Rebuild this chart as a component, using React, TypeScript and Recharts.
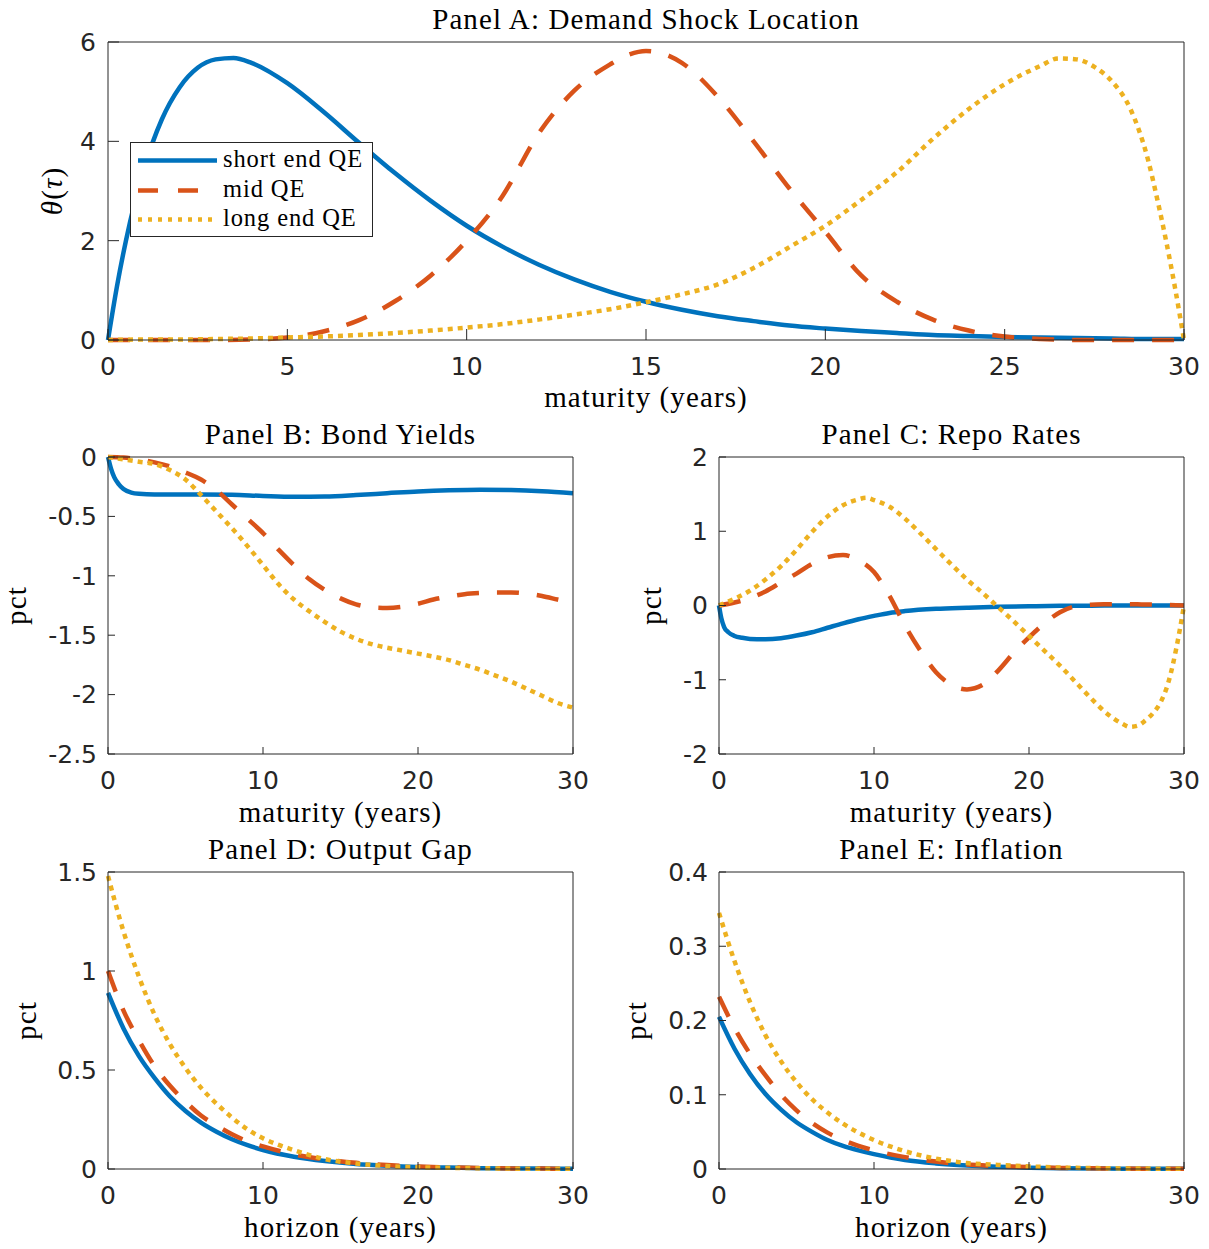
import React from 'react';
import { LineChart, Line, XAxis, YAxis, Legend } from 'recharts';

const BLUE = '#0072BD';
const ORANGE = '#D95319';
const YELLOW = '#EDB120';
const AX = '#262626';
const SERIF = '"Liberation Serif", "Times New Roman", serif';
const SANS = '"DejaVu Sans", sans-serif';

const seriesNames = ['short end QE', 'mid QE', 'long end QE'];

// ---------- Panel A: Demand Shock Location ----------
const xShortA = [0, 0.25, 0.5, 1, 1.5, 2, 2.5, 3, 3.5, 4, 5, 6, 7, 8, 9, 10, 11, 12, 13, 14, 15, 16, 17, 18, 19, 20, 21, 22, 23, 24, 25, 26, 27, 28, 29, 30];
const yShortA = [0, 1.08, 2.0, 3.44, 4.44, 5.09, 5.48, 5.65, 5.68, 5.58, 5.17, 4.6, 3.97, 3.36, 2.8, 2.3, 1.88, 1.52, 1.22, 0.97, 0.77, 0.61, 0.48, 0.38, 0.29, 0.23, 0.18, 0.14, 0.1, 0.08, 0.06, 0.05, 0.04, 0.03, 0.02, 0.02];
const xMidA = [0, 1, 2, 3, 4, 5, 6, 7, 8, 9, 10, 11, 12, 13, 14, 14.5, 15, 15.5, 16, 17, 18, 19, 20, 21, 22, 23, 24, 25, 26, 27, 28, 29, 30];
const yMidA = [0, 0, 0, 0, 0.01, 0.05, 0.17, 0.4, 0.78, 1.3, 2.0, 2.9, 4.15, 5.02, 5.55, 5.74, 5.82, 5.76, 5.58, 4.9, 4.0, 3.05, 2.18, 1.3, 0.77, 0.41, 0.19, 0.07, 0.02, 0, 0, 0, 0];
const xLongA = [0, 1, 2, 3, 4, 5, 6, 7, 8, 9, 10, 11, 12, 13, 14, 15, 16, 17, 18, 19, 20, 21, 22, 23, 24, 25, 26, 26.5, 27, 27.5, 28, 28.5, 29, 29.25, 29.5, 29.75, 30];
const yLongA = [0, 0.01, 0.01, 0.02, 0.03, 0.05, 0.07, 0.1, 0.14, 0.19, 0.25, 0.32, 0.41, 0.51, 0.62, 0.76, 0.92, 1.12, 1.45, 1.87, 2.3, 2.82, 3.38, 4.05, 4.65, 5.15, 5.52, 5.67, 5.65, 5.5, 5.2, 4.66, 3.62, 2.85, 2.0, 1.05, 0];

// ---------- Panel B: Bond Yields ----------
const xShortB = [0, 0.2, 0.4, 0.7, 1, 1.5, 2, 3, 4, 6, 8, 10, 12, 14, 16, 18, 20, 22, 24, 26, 28, 30];
const yShortB = [0, -0.1, -0.17, -0.23, -0.27, -0.3, -0.31, -0.315, -0.315, -0.315, -0.318, -0.328, -0.335, -0.332, -0.32, -0.305, -0.29, -0.28, -0.275, -0.278, -0.288, -0.305];
const xMidB = [0, 1, 2, 3, 4, 5, 6, 7, 8, 9, 10, 11, 12, 13, 14, 15, 16, 17, 18, 19, 20, 21, 22, 23, 24, 25, 26, 27, 28, 29, 30];
const yMidB = [0, -0.005, -0.02, -0.045, -0.08, -0.13, -0.19, -0.28, -0.4, -0.52, -0.64, -0.78, -0.91, -1.03, -1.12, -1.19, -1.24, -1.265, -1.27, -1.26, -1.235, -1.2, -1.175, -1.155, -1.145, -1.14, -1.14, -1.15, -1.17, -1.2, -1.23];
const xLongB = [0, 1, 2, 3, 4, 5, 6, 7, 8, 9, 10, 11, 12, 13, 14, 15, 16, 17, 18, 19, 20, 21, 22, 23, 24, 25, 26, 27, 28, 29, 30];
const yLongB = [0, -0.02, -0.04, -0.06, -0.11, -0.19, -0.32, -0.46, -0.6, -0.75, -0.91, -1.07, -1.2, -1.3, -1.39, -1.47, -1.53, -1.575, -1.605, -1.63, -1.655, -1.68, -1.71, -1.75, -1.79, -1.84, -1.89, -1.95, -2.01, -2.07, -2.11];

// ---------- Panel C: Repo Rates ----------
const xShortC = [0, 0.15, 0.33, 0.6, 1, 1.5, 2, 3, 4, 5, 6, 7, 8, 9, 10, 11, 12, 14, 16, 18, 20, 22, 24, 26, 28, 30];
const yShortC = [0, -0.17, -0.29, -0.36, -0.41, -0.435, -0.45, -0.455, -0.44, -0.405, -0.36, -0.3, -0.24, -0.185, -0.14, -0.1, -0.075, -0.045, -0.03, -0.018, -0.01, -0.005, -0.002, 0, 0, 0];
const xMidC = [0, 1, 2, 3, 4, 5, 6, 7, 8, 9, 10, 11, 12, 13, 14, 15, 16, 17, 18, 19, 20, 21, 22, 23, 24, 25, 26, 27, 28, 29, 30];
const yMidC = [0, 0.04, 0.1, 0.19, 0.31, 0.43, 0.56, 0.65, 0.68, 0.61, 0.45, 0.13, -0.27, -0.61, -0.9, -1.07, -1.13, -1.07, -0.88, -0.64, -0.43, -0.24, -0.09, -0.01, 0.01, 0.016, 0.018, 0.016, 0.012, 0.006, 0];
const xLongC = [0, 1, 2, 3, 4, 5, 6, 7, 8, 9, 9.5, 10, 11, 12, 13, 14, 15, 16, 17, 18, 19, 20, 21, 22, 23, 24, 25, 26, 26.5, 27, 27.5, 28, 28.5, 29, 29.5, 30];
const yLongC = [0, 0.09, 0.2, 0.35, 0.53, 0.75, 0.99, 1.2, 1.35, 1.43, 1.45, 1.42, 1.33, 1.17, 0.97, 0.76, 0.55, 0.35, 0.17, -0.02, -0.21, -0.41, -0.61, -0.81, -1.03, -1.25, -1.45, -1.59, -1.635, -1.62, -1.55, -1.45, -1.3, -1.03, -0.58, 0];

// ---------- Panels D & E: horizon ----------
const horizonYears = [0, 1, 2, 3, 4, 5, 6, 7, 8, 9, 10, 12, 14, 16, 18, 20, 22, 24, 26, 28, 30];
const yShortD = [0.89, 0.71, 0.57, 0.46, 0.366, 0.293, 0.234, 0.188, 0.15, 0.12, 0.096, 0.062, 0.04, 0.025, 0.016, 0.01, 0.007, 0.004, 0.003, 0.002, 0.001];
const yMidD = [1.0, 0.8, 0.65, 0.52, 0.42, 0.34, 0.27, 0.22, 0.175, 0.14, 0.114, 0.074, 0.048, 0.031, 0.02, 0.013, 0.008, 0.005, 0.003, 0.002, 0.001];
const yLongD = [1.48, 1.2, 0.97, 0.78, 0.63, 0.51, 0.41, 0.33, 0.26, 0.2, 0.155, 0.095, 0.05, 0.028, 0.015, 0.009, 0.006, 0.004, 0.002, 0.001, 0.001];
const yShortE = [0.205, 0.162, 0.128, 0.101, 0.08, 0.063, 0.05, 0.039, 0.031, 0.025, 0.02, 0.012, 0.0075, 0.0047, 0.003, 0.0018, 0.001, 0.0007, 0.0004, 0.0003, 0.0002];
const yMidE = [0.232, 0.19, 0.155, 0.126, 0.1, 0.079, 0.062, 0.049, 0.039, 0.031, 0.025, 0.016, 0.01, 0.006, 0.004, 0.0025, 0.0015, 0.001, 0.0006, 0.0004, 0.0002];
const yLongE = [0.345, 0.28, 0.225, 0.18, 0.145, 0.117, 0.094, 0.076, 0.061, 0.049, 0.039, 0.024, 0.014, 0.008, 0.0055, 0.0035, 0.002, 0.0013, 0.0008, 0.0005, 0.0003];

// ---------- Ticks ----------
const xTicksA = [0, 5, 10, 15, 20, 25, 30];
const xTicksSmall = [0, 10, 20, 30];
const yTicksA = [0, 2, 4, 6];
const yTicksB = [-2.5, -2, -1.5, -1, -0.5, 0];
const yTicksC = [-2, -1, 0, 1, 2];
const yTicksD = [0, 0.5, 1, 1.5];
const yTicksE = [0, 0.1, 0.2, 0.3, 0.4];

const zip = (xs: number[], ys: number[]) => xs.map((x, i) => ({ x, y: ys[i] }));

const LW = 4.5;
const STYLES = [
  { stroke: BLUE, dash: undefined as string | undefined },
  { stroke: ORANGE, dash: '22 18' },
  { stroke: YELLOW, dash: '5 5' },
];
const LEGEND_DASH = [undefined, '20 20', '4 6'];

type Box = { x0: number; y0: number; x1: number; y1: number };

const LegendBox = () => (
  <svg width={244} height={96} style={{ display: 'block' }}>
    <rect x={0.5} y={0.5} width={242} height={94} fill="#ffffff" stroke={AX} strokeWidth={1} />
    {seriesNames.map((name, i) => {
      const ly = [18.5, 48.5, 77.5][i];
      return (
        <g key={name}>
          <line x1={8} x2={87} y1={ly} y2={ly} stroke={STYLES[i].stroke} strokeWidth={LW} strokeDasharray={LEGEND_DASH[i]} />
          <text x={93} y={ly + 6} fontFamily={SERIF} fontSize={24.5} letterSpacing={0.9} fill="#000">{name}</text>
        </g>
      );
    })}
  </svg>
);

const Panel = ({ box, yDomain, yTicks, xTicks, series, tickLen, gapX, gapY, legend }: {
  box: Box; yDomain: [number, number]; yTicks: number[]; xTicks: number[];
  series: { x: number; y: number }[][]; tickLen: number; gapX: number; gapY: number; legend?: boolean;
}) => {
  const padL = 100, padT = 20, padR = 30, padB = 50;
  const w = box.x1 - box.x0 + padL + padR;
  const h = box.y1 - box.y0 + padT + padB;
  const tickStyle = { fill: AX, fontSize: 25, fontFamily: SANS };
  return (
    <div style={{ position: 'absolute', left: box.x0 - padL, top: box.y0 - padT, width: w, height: h }}>
      <LineChart width={w} height={h} margin={{ top: padT - 10, right: padR - 10, bottom: padB - 30, left: padL - 60 }}>
        <XAxis type="number" dataKey="x" domain={[0, 30]} ticks={xTicks} interval={0} height={30}
          tickSize={-tickLen} tickMargin={tickLen + gapX} tick={tickStyle}
          axisLine={{ stroke: AX, strokeWidth: 1 }} tickLine={{ stroke: AX, strokeWidth: 1 }} />
        <XAxis xAxisId="t" orientation="top" type="number" dataKey="x" domain={[0, 30]} ticks={xTicks} interval={0} height={10}
          tickSize={-tickLen} tick={false}
          axisLine={{ stroke: AX, strokeWidth: 1 }} tickLine={{ stroke: AX, strokeWidth: 1 }} />
        <YAxis type="number" domain={yDomain} ticks={yTicks} interval={0} width={60}
          tickSize={-tickLen} tickMargin={tickLen + gapY} tick={tickStyle} tickFormatter={(v: number) => String(v)}
          axisLine={{ stroke: AX, strokeWidth: 1 }} tickLine={{ stroke: AX, strokeWidth: 1 }} />
        <YAxis yAxisId="r" orientation="right" type="number" domain={yDomain} ticks={yTicks} interval={0} width={10}
          tickSize={-tickLen} tick={false}
          axisLine={{ stroke: AX, strokeWidth: 1 }} tickLine={{ stroke: AX, strokeWidth: 1 }} />
        {series.map((d, i) => (
          <Line key={i} data={d} dataKey="y" name={seriesNames[i]} type="monotone" stroke={STYLES[i].stroke}
            strokeWidth={LW} strokeDasharray={STYLES[i].dash} dot={false} activeDot={false} isAnimationActive={false} />
        ))}
        {legend && (
          <Legend layout="vertical" align="center" verticalAlign="middle"
            wrapperStyle={{ left: 130 - (box.x0 - padL), top: 142 - (box.y0 - padT), width: 244, height: 96 }}
            content={() => <LegendBox />} />
        )}
      </LineChart>
    </div>
  );
};

const Title = ({ x, y, children }: { x: number; y: number; children: React.ReactNode }) => (
  <text x={x} y={y} textAnchor="middle" fontFamily={SERIF} fontSize={29} letterSpacing={1.1} fill="#000">{children}</text>
);

const VLabel = ({ x, y, children }: { x: number; y: number; children: React.ReactNode }) => (
  <text x={x} y={y} textAnchor="middle" fontFamily={SERIF} fontSize={29} letterSpacing={1.1} fill="#000"
    transform={`rotate(-90, ${x}, ${y})`}>{children}</text>
);

const boxA: Box = { x0: 108, y0: 42, x1: 1184, y1: 340 };
const boxB: Box = { x0: 108, y0: 457, x1: 573, y1: 754 };
const boxC: Box = { x0: 719, y0: 457, x1: 1184, y1: 754 };
const boxD: Box = { x0: 108, y0: 872, x1: 573, y1: 1169 };
const boxE: Box = { x0: 719, y0: 872, x1: 1184, y1: 1169 };

export default function App() {
  return (
    <div style={{ position: 'absolute', left: 0, top: 0, width: 1209, height: 1249, background: '#ffffff' }}>
      <Panel box={boxA} yDomain={[0, 6]} yTicks={yTicksA} xTicks={xTicksA} tickLen={11} gapX={17} gapY={12}
        series={[zip(xShortA, yShortA), zip(xMidA, yMidA), zip(xLongA, yLongA)]} legend />
      <Panel box={boxB} yDomain={[-2.5, 0]} yTicks={yTicksB} xTicks={xTicksSmall} tickLen={7} gapX={17} gapY={11}
        series={[zip(xShortB, yShortB), zip(xMidB, yMidB), zip(xLongB, yLongB)]} />
      <Panel box={boxC} yDomain={[-2, 2]} yTicks={yTicksC} xTicks={xTicksSmall} tickLen={7} gapX={17} gapY={11}
        series={[zip(xShortC, yShortC), zip(xMidC, yMidC), zip(xLongC, yLongC)]} />
      <Panel box={boxD} yDomain={[0, 1.5]} yTicks={yTicksD} xTicks={xTicksSmall} tickLen={7} gapX={17} gapY={11}
        series={[zip(horizonYears, yShortD), zip(horizonYears, yMidD), zip(horizonYears, yLongD)]} />
      <Panel box={boxE} yDomain={[0, 0.4]} yTicks={yTicksE} xTicks={xTicksSmall} tickLen={7} gapX={17} gapY={11}
        series={[zip(horizonYears, yShortE), zip(horizonYears, yMidE), zip(horizonYears, yLongE)]} />
      <svg width={1209} height={1249} style={{ position: 'absolute', left: 0, top: 0, pointerEvents: 'none' }}>
        <Title x={646} y={29}>Panel A: Demand Shock Location</Title>
        <Title x={340.5} y={443.5}>Panel B: Bond Yields</Title>
        <Title x={951.5} y={443.5}>Panel C: Repo Rates</Title>
        <Title x={340.5} y={858.5}>Panel D: Output Gap</Title>
        <Title x={951.5} y={858.5}>Panel E: Inflation</Title>
        <Title x={646} y={407}>maturity (years)</Title>
        <Title x={340.5} y={822}>maturity (years)</Title>
        <Title x={951.5} y={822}>maturity (years)</Title>
        <Title x={340.5} y={1237}>horizon (years)</Title>
        <Title x={951.5} y={1237}>horizon (years)</Title>
        <VLabel x={62} y={191}><tspan fontStyle="italic">θ</tspan>(<tspan fontStyle="italic">τ</tspan>)</VLabel>
        <VLabel x={26} y={605.5}>pct</VLabel>
        <VLabel x={661} y={605.5}>pct</VLabel>
        <VLabel x={36} y={1020.5}>pct</VLabel>
        <VLabel x={646} y={1020.5}>pct</VLabel>
      </svg>
    </div>
  );
}
